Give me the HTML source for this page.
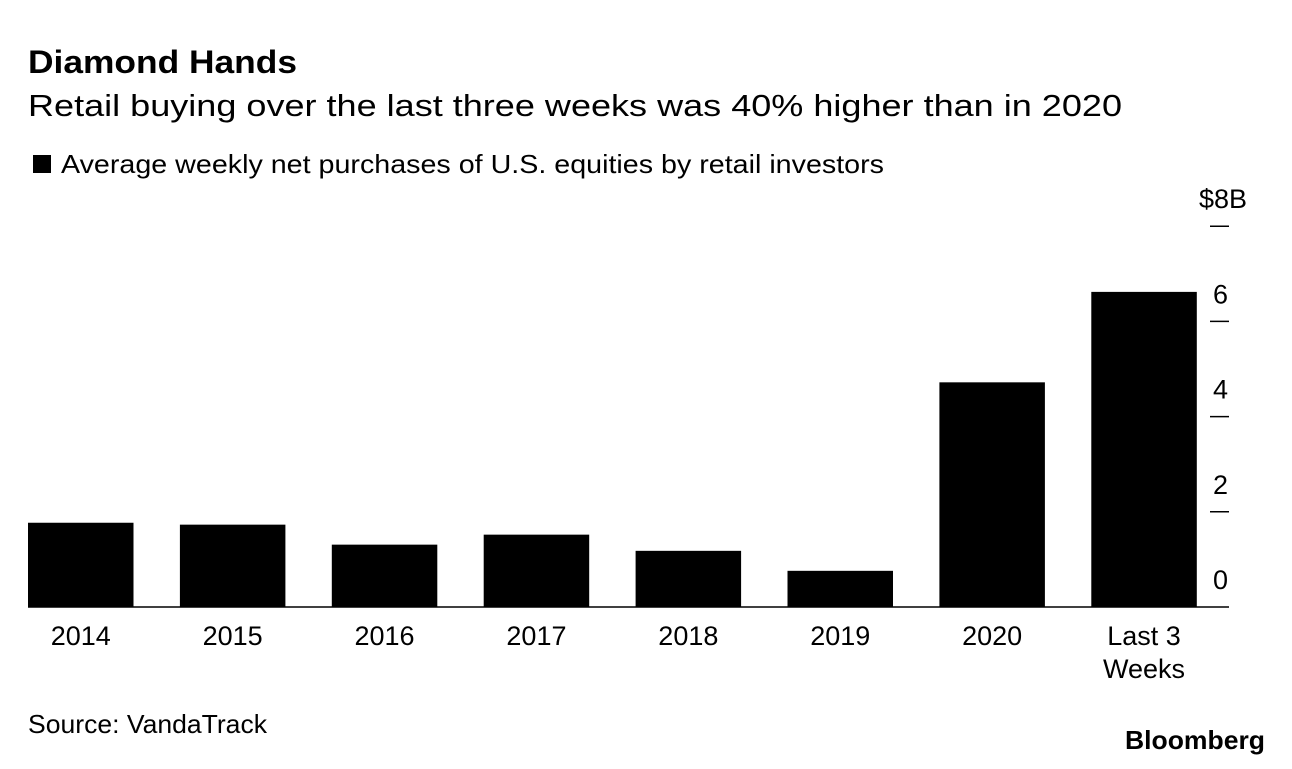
<!DOCTYPE html>
<html><head><meta charset="utf-8"><style>
body{margin:0;background:#fff;width:1292px;height:764px;overflow:hidden;font-family:"Liberation Sans",Arial,sans-serif;}
</style></head><body>
<svg width="1292" height="764" xmlns="http://www.w3.org/2000/svg" font-family="Liberation Sans, Arial, sans-serif">
<text x="28" y="73" font-size="32" font-weight="bold" fill="#000" textLength="269" lengthAdjust="spacingAndGlyphs">Diamond Hands</text>
<text x="28" y="116" font-size="31" fill="#000" textLength="1094" lengthAdjust="spacingAndGlyphs">Retail buying over the last three weeks was 40% higher than in 2020</text>
<rect x="33" y="155" width="18" height="18" fill="#000"/>
<text x="61" y="173" font-size="26" fill="#000" textLength="823" lengthAdjust="spacingAndGlyphs">Average weekly net purchases of U.S. equities by retail investors</text>
<g id="bars"></g>
<g id="yaxis"></g>
<g id="xaxis"></g>
<line x1="28" y1="607" x2="1229" y2="607" stroke="#000" stroke-width="1.5"/>
<text x="28" y="733" font-size="26" fill="#000" textLength="239" lengthAdjust="spacingAndGlyphs">Source: VandaTrack</text>
<text x="1265" y="749" font-size="26" font-weight="bold" text-anchor="end" fill="#000" textLength="140" lengthAdjust="spacingAndGlyphs">Bloomberg</text>
</svg>
<script>
const categories=["2014","2015","2016","2017","2018","2019","2020","Last 3|Weeks"];
const values=[1.77,1.73,1.31,1.52,1.18,0.76,4.72,6.62];
const yTicks=[0,2,4,6,8];
const yTickLabels=["0","2","4","6","$8B"];
const NS="http://www.w3.org/2000/svg";
const y0=607,pxPerUnit=47.6;
function yScale(v){return y0-v*pxPerUnit;}
function xScale(i){return 28+i*151.9;}
const bw=105.5;
const bars=document.getElementById('bars'),xa=document.getElementById('xaxis'),ya=document.getElementById('yaxis');
categories.forEach((c,i)=>{
  const r=document.createElementNS(NS,'rect');
  r.setAttribute('x',xScale(i));r.setAttribute('y',yScale(values[i]));
  r.setAttribute('width',bw);r.setAttribute('height',y0-yScale(values[i]));
  r.setAttribute('fill','#000');
  
  
  bars.appendChild(r);
  c.split('|').forEach((line,k)=>{
    const t=document.createElementNS(NS,'text');
    t.setAttribute('x',xScale(i)+bw/2);t.setAttribute('y',645+k*33);
    t.setAttribute('text-anchor','middle');t.setAttribute('font-size','27');
    t.textContent=line;
    
    
    xa.appendChild(t);
  });
});
yTicks.forEach((v,i)=>{
  const y=yScale(v);
  if(v>0){
    const l=document.createElementNS(NS,'line');
    l.setAttribute('x1',1210);l.setAttribute('x2',1229);l.setAttribute('y1',y);l.setAttribute('y2',y);
    l.setAttribute('stroke','#000');l.setAttribute('stroke-width','1.5');
    
    
    ya.appendChild(l);
  }
  const t=document.createElementNS(NS,'text');
  const lab=yTickLabels[i];
  t.setAttribute('x',lab.startsWith('$')?1199:1213);
  t.setAttribute('y',y-18);
  t.setAttribute('font-size','27');
  t.textContent=lab;
  
  
  ya.appendChild(t);
});
</script>
</body></html>
